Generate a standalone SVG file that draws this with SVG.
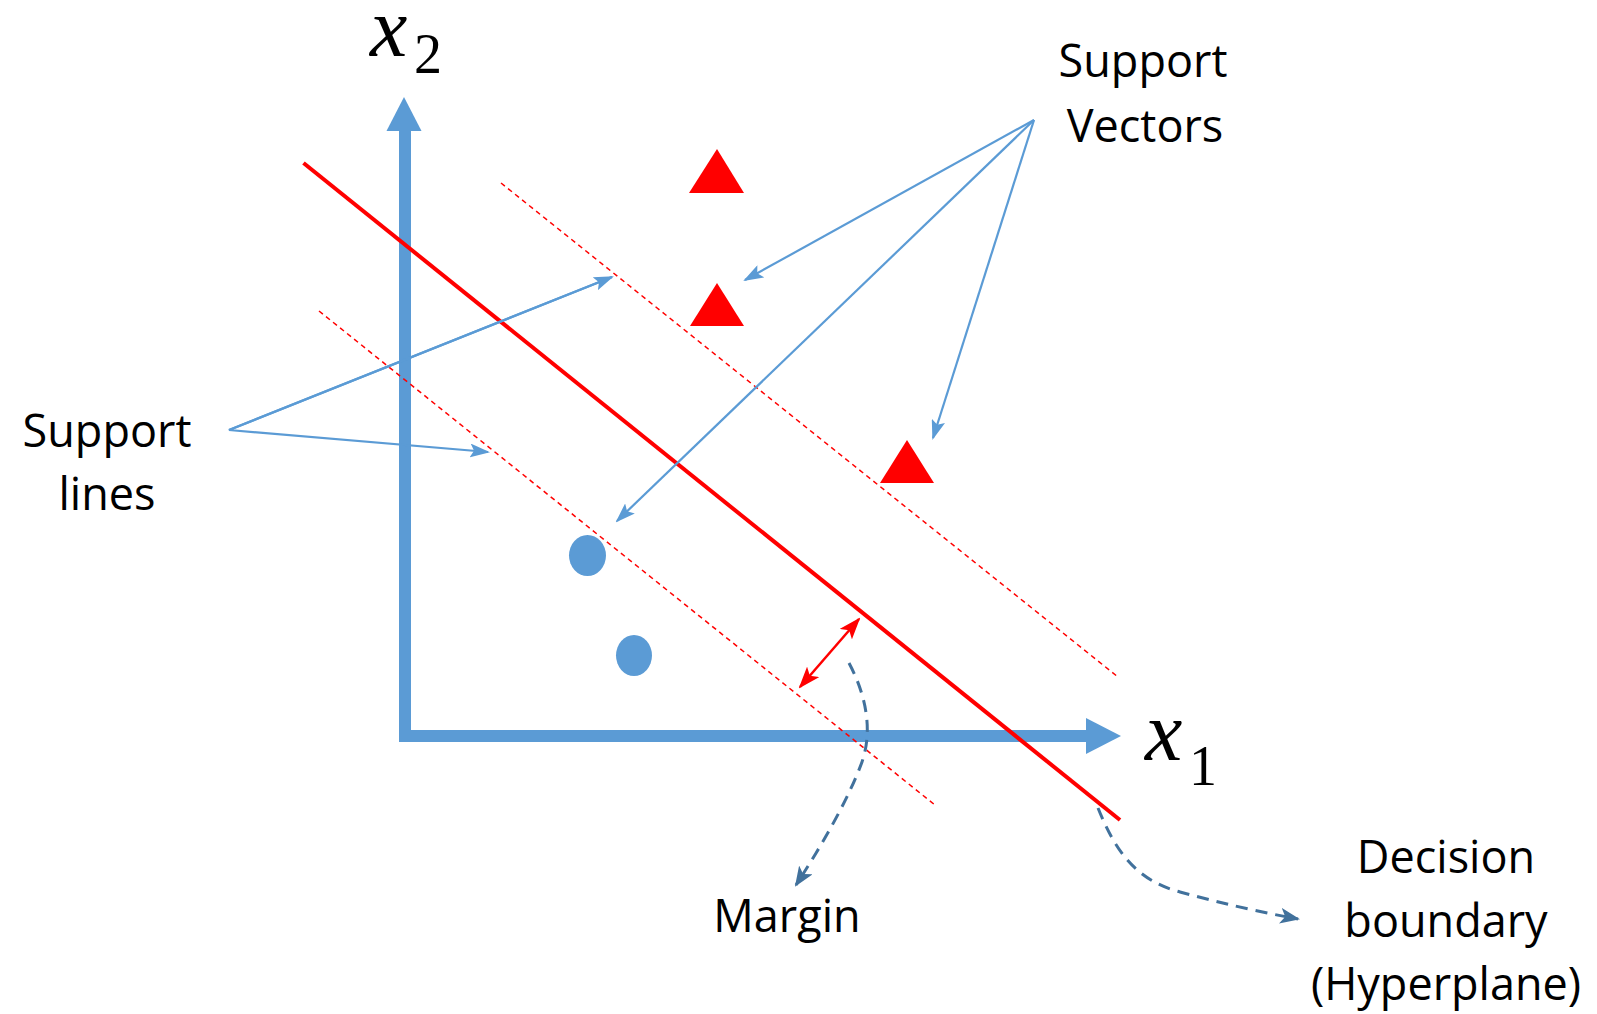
<svg xmlns="http://www.w3.org/2000/svg" width="1597" height="1014" viewBox="0 0 1597 1014">
<style>
.lbl{font-family:"Open Sans","Liberation Sans",sans-serif;font-size:45px;fill:#000;text-anchor:middle}
.math{font-family:"Liberation Serif","Times New Roman",serif;font-style:italic;fill:#000}
.sub{font-family:"Liberation Serif","Times New Roman",serif;fill:#000}
.ptr{stroke:#5B9BD5;stroke-width:2.2;fill:none}
.sup{stroke:#FF0000;stroke-width:1.5;stroke-dasharray:5 4;fill:none}
.curve{stroke:#41719C;stroke-width:3;stroke-dasharray:12 8;fill:none}
</style>
<defs>
<marker id="bh" markerUnits="userSpaceOnUse" markerWidth="20" markerHeight="14" refX="18" refY="7" orient="auto"><path d="M0,0 L20,7 L0,14 L4,7 Z" fill="#5B9BD5"/></marker>
<marker id="dh" markerUnits="userSpaceOnUse" markerWidth="20" markerHeight="16" refX="18" refY="8" orient="auto"><path d="M0,0 L20,8 L0,16 L5,8 Z" fill="#41719C"/></marker>
<marker id="rh" markerUnits="userSpaceOnUse" markerWidth="22" markerHeight="16" refX="20" refY="8" orient="auto-start-reverse"><path d="M0,0 L22,8 L0,16 L5,8 Z" fill="#FF0000"/></marker>
</defs>
<g id="axes">
<line x1="405" y1="742" x2="405" y2="125" stroke="#5B9BD5" stroke-width="12"/>
<polygon points="404,97 386.5,131 421.5,131" fill="#5B9BD5"/>
<line x1="399" y1="736" x2="1090" y2="736" stroke="#5B9BD5" stroke-width="12"/>
<polygon points="1121,736 1086,718 1086,754" fill="#5B9BD5"/>
</g>
<g id="x2-label"><text class="math" x="370" y="56" font-size="84">x</text><text class="sub" x="414" y="73" font-size="56">2</text></g>
<g id="x1-label"><text class="math" x="1145" y="760" font-size="84">x</text><text class="sub" x="1189" y="785" font-size="56">1</text></g>
<g id="hyperplane"><line x1="303.5" y1="163" x2="1120" y2="820" stroke="#FF0000" stroke-width="4"/></g>
<g id="support-line-upper"><line class="sup" x1="501" y1="183" x2="1118" y2="677"/></g>
<g id="support-line-lower"><line class="sup" x1="319" y1="311" x2="935" y2="805"/></g>
<g id="triangle-1"><polygon points="717,149 689,193 744,193" fill="#FF0000"/></g>
<g id="triangle-2"><polygon points="717,283 690,326 744,326" fill="#FF0000"/></g>
<g id="triangle-3"><polygon points="907,440 880,483 934,483" fill="#FF0000"/></g>
<g id="circle-1"><ellipse cx="587.5" cy="555.5" rx="18.5" ry="20.5" fill="#5B9BD5"/></g>
<g id="circle-2"><ellipse cx="634" cy="655.5" rx="18" ry="20.5" fill="#5B9BD5"/></g>
<g id="support-vectors-label"><text class="lbl" x="1143" y="77">Support</text><text class="lbl" x="1145" y="142">Vectors</text></g>
<g id="support-lines-label"><text class="lbl" x="107" y="447">Support</text><text class="lbl" x="107" y="510">lines</text></g>
<g id="margin-label"><text class="lbl" x="787" y="932">Margin</text></g>
<g id="decision-label"><text class="lbl" x="1446" y="873">Decision</text><text class="lbl" x="1446" y="937">boundary</text><text class="lbl" x="1446" y="1000">(Hyperplane)</text></g>
<g id="connectors">
<line class="ptr" x1="1034" y1="120" x2="745" y2="280" marker-end="url(#bh)"/>
<line class="ptr" x1="1034" y1="120" x2="617" y2="521" marker-end="url(#bh)"/>
<line class="ptr" x1="1034" y1="120" x2="933" y2="438" marker-end="url(#bh)"/>
<polyline class="ptr" points="612,277 229,430 488,452" marker-end="url(#bh)"/>
<line class="ptr" x1="229" y1="430" x2="612" y2="277" marker-end="url(#bh)"/>
<line x1="800" y1="687" x2="859" y2="619" stroke="#FF0000" stroke-width="2.5" marker-start="url(#rh)" marker-end="url(#rh)"/>
<path class="curve" d="M849,663 C866,695 873,730 862,762 C848,800 822,845 796,885" marker-end="url(#dh)"/>
<path class="curve" d="M1098,808 C1115,850 1135,880 1180,892 C1220,903 1260,912 1298,919" marker-end="url(#dh)"/>
</g>
</svg>
